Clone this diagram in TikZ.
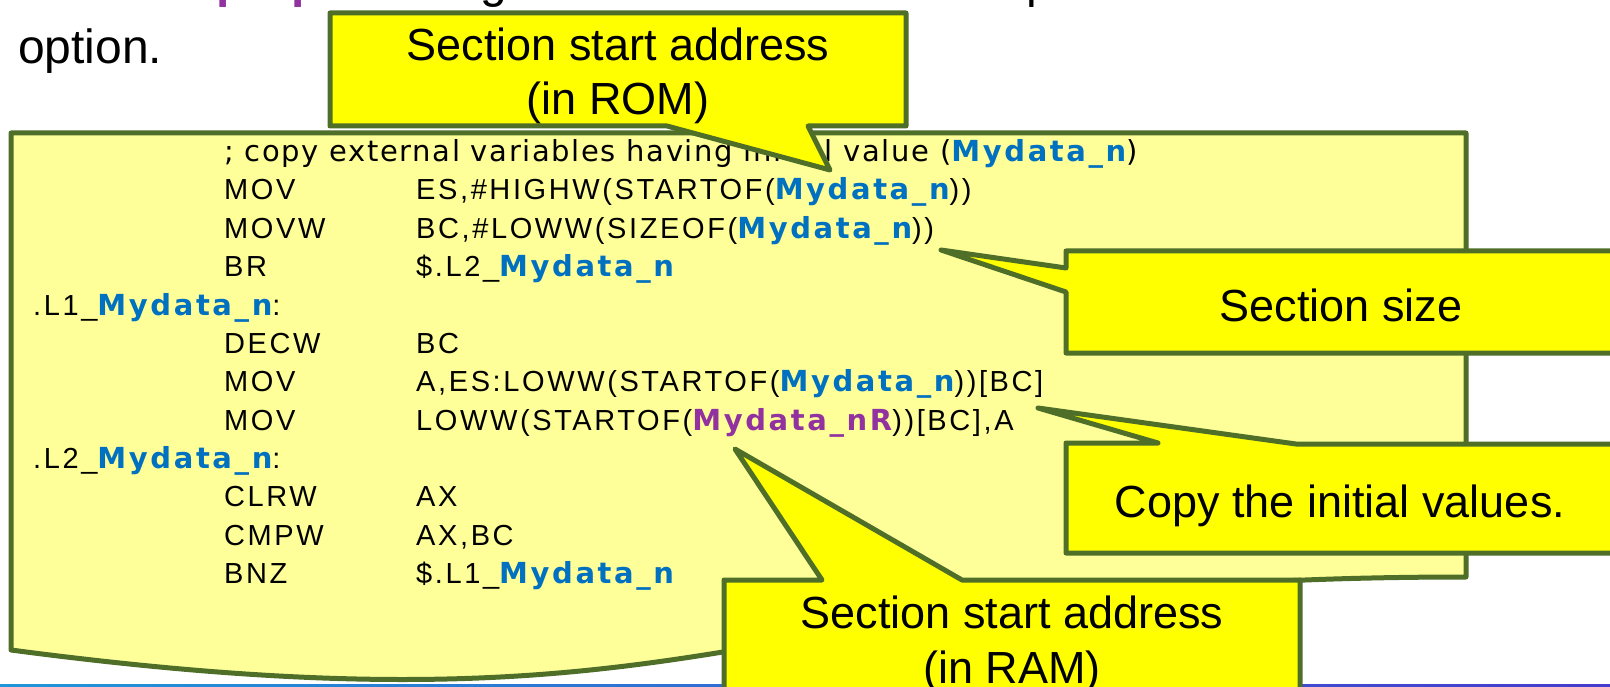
\documentclass[tikz,border=0pt]{standalone}
\usepackage{fontspec}
\setmainfont{Liberation Sans}
\newfontfamily\codefont[LetterSpace=9]{Liberation Sans}
\newfontfamily\boldcode[LetterSpace=9]{DejaVu Sans}
\newfontfamily\commentfont[LetterSpace=5.5]{DejaVu Sans}
\definecolor{dgreen}{RGB}{79,111,40}
\definecolor{lyellow}{RGB}{255,255,153}
\definecolor{byellow}{RGB}{255,255,0}
\definecolor{mblue}{RGB}{0,112,192}
\definecolor{mpurple}{RGB}{145,50,160}
\definecolor{lineA}{RGB}{30,150,215}
\definecolor{lineB}{RGB}{70,60,205}
\newcommand\MDn{{\boldcode\bfseries\color{mblue}Mydata\_n}}
\newcommand\MDnR{{\boldcode\bfseries\color{mpurple}Mydata\_nR}}
\tikzset{
  codeline/.style={anchor=base west, inner sep=0pt, font=\codefont\fontsize{29}{34}\selectfont},
  commentline/.style={anchor=base west, inner sep=0pt, font=\commentfont\fontsize{29}{34}\selectfont},
  callouttext/.style={anchor=base, inner sep=0pt, font=\fontsize{45}{54}\selectfont},
  toptext/.style={anchor=base west, inner sep=0pt, font=\fontsize{48}{56}\selectfont},
  mainbox/.style={draw=dgreen, fill=lyellow, line width=5pt, line join=round},
  calloutbox/.style={draw=dgreen, fill=byellow, line width=5pt, line join=round},
}
\begin{document}
\begin{tikzpicture}[x=1pt,y=-1pt]
\useasboundingbox (0,0) rectangle (1610,687);
% cut-off line above
\node[toptext, text=mpurple, font=\bfseries\fontsize{48}{56}\selectfont] (tp1) at (216,-2) {p};
\node[toptext, text=mpurple, font=\bfseries\fontsize{48}{56}\selectfont] (tp2) at (291,-2) {p};
\node[toptext] (tg) at (480,-2) {g};
\node[toptext] (tp3) at (1026,-2) {p};
\node[toptext] (opt) at (18,64) {option.};
% bottom rule
\shade[left color=lineA, right color=lineB] (0,684.5) rectangle (1610,687);
% main code box
\draw[mainbox] (11,133) -- (1466,133) -- (1466,577) .. controls (738,577) and (738,746) .. (11,650) -- cycle;
% code
\node[commentline] (c0) at (224,162) {; copy external variables having initial value (\MDn)};
\node[codeline] (m1) at (224,200) {MOV};
\node[codeline] (o1) at (416,200) {ES,\#HIGHW(STARTOF(\MDn))};
\node[codeline] (m2) at (224,238.35) {MOVW};
\node[codeline] (o2) at (416,238.35) {BC,\#LOWW(SIZEOF(\MDn))};
\node[codeline] (m3) at (224,276.7) {BR};
\node[codeline] (o3) at (416,276.7) {\$.L2\_\MDn};
\node[codeline] (l4) at (33,315.05) {.L1\_\MDn:};
\node[codeline] (m5) at (224,353.4) {DECW};
\node[codeline] (o5) at (416,353.4) {BC};
\node[codeline] (m6) at (224,391.75) {MOV};
\node[codeline] (o6) at (416,391.75) {A,ES:LOWW(STARTOF(\MDn))[BC]};
\node[codeline] (m7) at (224,430.1) {MOV};
\node[codeline] (o7) at (416,430.1) {LOWW(STARTOF(\MDnR))[BC],A};
\node[codeline] (l8) at (33,468.45) {.L2\_\MDn:};
\node[codeline] (m9) at (224,506.8) {CLRW};
\node[codeline] (o9) at (416,506.8) {AX};
\node[codeline] (m10) at (224,545.15) {CMPW};
\node[codeline] (o10) at (416,545.15) {AX,BC};
\node[codeline] (m11) at (224,583.5) {BNZ};
\node[codeline] (o11) at (416,583.5) {\$.L1\_\MDn};
% callout: section start address (ROM)
\draw[calloutbox] (330,13) -- (906,13) -- (906,126) -- (808,126) -- (830,170) -- (667,126) -- (330,126) -- cycle;
\node[callouttext] (rom1) at (618,61) {Section start address};
\node[callouttext] (rom2) at (618,115) {(in ROM)};
% callout: section size
\draw[calloutbox] (1066,251) -- (1625,251) -- (1625,353) -- (1066,353) -- (1066,292) -- (941,250) -- (1066,268) -- cycle;
\node[callouttext] (size) at (1341,321) {Section size};
% callout: copy
\draw[calloutbox] (1066,443) -- (1158,443) -- (1038,408) -- (1296,444) -- (1625,444) -- (1625,553) -- (1066,553) -- cycle;
\node[callouttext] (copy) at (1340,517) {Copy the initial values.};
% callout: section start address (RAM)
\draw[calloutbox] (724,580) -- (822,580) -- (735,449) -- (962,580) -- (1300,580) -- (1300,705) -- (724,705) -- cycle;
\node[callouttext] (ram1) at (1012,628) {Section start address};
\node[callouttext] (ram2) at (1012,683) {(in RAM)};
\end{tikzpicture}
\end{document}
